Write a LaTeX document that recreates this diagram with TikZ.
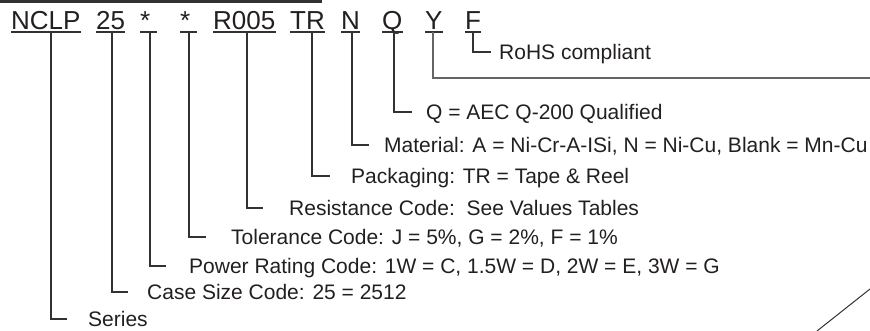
\documentclass[tikz,border=0pt]{standalone}
\usepackage{fontspec}
\setmainfont{Liberation Sans}
\usepackage{xcolor}
\usepackage{tikz}
\definecolor{inkline}{RGB}{50,50,50}
\definecolor{inktext}{RGB}{35,31,32}

\begin{document}
\begin{tikzpicture}[x=1pt, y=-1pt,
  every node/.style={text=inktext},
  code/.style={anchor=base west, inner sep=0pt, font=\fontsize{26}{30}\selectfont},
  lab/.style={anchor=west, inner ysep=0pt, text height=15pt, text depth=0pt,
              font=\fontsize{21}{25}\selectfont},
  lead/.style={draw=inkline, line width=1.2pt},
  uline/.style={draw=inkline, line width=1.2pt}
]
\useasboundingbox (0,0) rectangle (870,331);

% part number fields
\node[code] (nclp) at (11,30) {NCLP};
\node[code] (size) at (96,30) {25};
\node[code] (power) at (140,30) {\makebox[17pt][l]{*}};
\node[code] (tol) at (180,30) {\makebox[17pt][l]{*}};
\node[code] (res) at (213,30) {R005};
\node[code] (pack) at (290,30) {TR};
\node[code] (mat) at (341,30) {N};
\node[code] (qual) at (382,30) {Q};
\node[code] (ycode) at (425,30) {Y};
\node[code] (rohs) at (465,30) {F};

\foreach \n in {nclp,size,power,tol,res,pack,mat,qual,ycode,rohs}
  \draw[uline] ([yshift=-2pt]\n.base west) -- ([yshift=-2pt]\n.base east);

% descriptions
\node[lab, inner xsep=8pt] (rohs-l) at (491,52) {RoHS compliant};
\node[lab, inner xsep=14pt] (qual-l) at (412,112) {Q = AEC Q-200 Qualified};
\node[lab, inner xsep=15pt] (mat-l) at (369,145) {Material: A = Ni-Cr-A-ISi, N = Ni-Cu, Blank = Mn-Cu};
\node[lab, inner xsep=21pt] (pack-l) at (330,176) {Packaging: TR = Tape \& Reel};
\node[lab, inner xsep=26pt] (res-l) at (263,208) {Resistance Code:~~See Values Tables};
\node[lab, inner xsep=25pt] (tol-l) at (206,237) {Tolerance Code: J = 5\%, G = 2\%, F = 1\%};
\node[lab, inner xsep=23pt] (power-l) at (166,266) {Power Rating Code: 1W = C, 1.5W = D, 2W = E, 3W = G};
\node[lab, inner xsep=19pt] (size-l) at (128,292) {Case Size Code: 25 = 2512};
\node[lab, inner xsep=21pt] (nclp-l) at (67,319) {Series};
\coordinate (yend) at (870,78);

\draw[lead] ([xshift=8pt,yshift=-2pt]rohs.base west) |- (rohs-l.west);
\draw[lead, draw=inkline!75] ([xshift=8pt,yshift=-2pt]ycode.base west) |- (yend);
\draw[lead] ([xshift=12pt,yshift=-2pt]qual.base west) |- (qual-l.west);
\draw[lead] ([xshift=11pt,yshift=-2pt]mat.base west) |- (mat-l.west);
\draw[lead] ([xshift=22pt,yshift=-2pt]pack.base west) |- (pack-l.west);
\draw[lead] ([xshift=34pt,yshift=-2pt]res.base west) |- (res-l.west);
\draw[lead] ([xshift=9pt,yshift=-2pt]tol.base west) |- (tol-l.west);
\draw[lead] ([xshift=10pt,yshift=-2pt]power.base west) |- (power-l.west);
\draw[lead] ([xshift=16pt,yshift=-2pt]size.base west) |- (size-l.west);
\draw[lead] ([xshift=40pt,yshift=-2pt]nclp.base west) |- (nclp-l.west);

% top rule and corner stroke
\draw[draw=inkline, line width=2.6pt] (0,1.3) -- (322,1.3);
\draw[draw=inkline, line width=1pt] (817,331) -- (870,289);
\end{tikzpicture}
\end{document}
